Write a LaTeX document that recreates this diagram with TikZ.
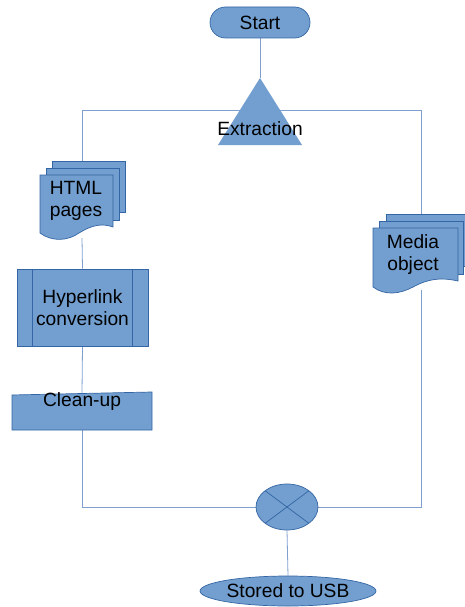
\documentclass[tikz,border=0pt]{standalone}
\usepackage{fontspec}
\setmainfont{Liberation Sans}
\usetikzlibrary{shapes.geometric,calc}
\definecolor{fillb}{HTML}{729FCF}
\definecolor{edgeb}{HTML}{3465A4}
\definecolor{linkb}{HTML}{7F9FCF}
\pgfdeclarelayer{bg}
\pgfsetlayers{bg,main}
\begin{document}
\begin{tikzpicture}[x=1pt,y=-1pt,
  shp/.style={fill=fillb,draw=edgeb,line width=0.7pt},
  lbl/.style={font=\fontsize{19.2}{22}\selectfont,align=center,inner sep=0pt,text=black},
  conn/.style={draw=linkb,line width=0.8pt}]
\useasboundingbox (0,0) rectangle (465,607);

% Start
\node[shp,lbl,rounded corners=15.5pt,minimum width=100pt,minimum height=31pt] (start) at (260,22.5) {Start};

% Extraction triangle
\coordinate (triTop) at (260,78);
\fill[fillb] (260,78) -- (302,145) -- (218,145) -- cycle;
\node[lbl] (extr) at (260,128.5) {Extraction};

% corners of the loop
\coordinate (cTL) at (82,110);
\coordinate (cTR) at (421,110);
\coordinate (cBL) at (82,507);
\coordinate (cBR) at (421,507);

% HTML pages (multi-document)
\draw[shp] (52,161) rectangle (125,212);
\draw[shp] (46,168) rectangle (119,220);
\draw[shp] (40,233) -- (40,175) -- (113,175) -- (113,227)
  .. controls (102,223) and (92,225) .. (79,233)
  .. controls (68,241) and (52,242) .. (40,233) -- cycle;
\node[lbl] (html) at (76,200.5) {HTML\\pages};
\coordinate (htmlTop) at (82,161);
\coordinate (htmlBot) at (82,238);

% Hyperlink conversion (predefined process)
\node[shp,lbl,minimum width=131pt,minimum height=77pt] (hyper) at (82.5,307.5) {Hyperlink\\conversion};
\draw[edgeb,line width=0.7pt] ([xshift=16pt]hyper.north west) -- ([xshift=16pt]hyper.south west);
\draw[edgeb,line width=0.7pt] ([xshift=-16pt]hyper.north east) -- ([xshift=-16pt]hyper.south east);

% Clean-up (manual input)
\draw[shp] (12,395) -- (152,392) -- (152,430) -- (12,430) -- cycle;
\node[lbl] (clean) at (82,402) {Clean-up};
\coordinate (cleanTop) at (82,393);
\coordinate (cleanBot) at (82,430);

% Media object (multi-document)
\draw[shp] (386,214) rectangle (472,266);
\draw[shp] (379,221) rectangle (463,274);
\draw[shp] (373,287) -- (373,228) -- (458,228) -- (458,281)
  .. controls (440,277) and (428,279) .. (413,287)
  .. controls (400,294) and (385,296) .. (373,287) -- cycle;
\node[lbl] (media) at (413,255) {Media\\object};
\coordinate (mediaTop) at (421,214);
\coordinate (mediaBot) at (421,290);

% Junction
\node[shp,ellipse,minimum width=62pt,minimum height=46pt,inner sep=0pt] (junc) at (287,507) {};
\draw[edgeb,line width=0.7pt] ($(junc.center)+(-21.9,-16.3)$) -- ($(junc.center)+(21.9,16.3)$);
\draw[edgeb,line width=0.7pt] ($(junc.center)+(21.9,-16.3)$) -- ($(junc.center)+(-21.9,16.3)$);

% Stored to USB
\node[shp,lbl,ellipse,minimum width=176pt,minimum height=30pt] (usb) at (288,591) {Stored to USB};

% connectors
\begin{pgfonlayer}{bg}
\draw[conn] (start.south) -- (triTop);
\draw[conn] (cTL) -- (cTR);
\draw[conn] (cTL) -- (htmlTop);
\draw[conn] (htmlBot) -- (hyper.north);
\draw[conn] (hyper.south) -- (cleanTop);
\draw[conn] (cleanBot) -- (cBL) -- (junc.west);
\draw[conn] (junc.east) -- (cBR) -- (mediaBot);
\draw[conn] (cTR) -- (mediaTop);
\draw[conn] (junc.south) -- (usb.north);
\end{pgfonlayer}
\end{tikzpicture}
\end{document}
